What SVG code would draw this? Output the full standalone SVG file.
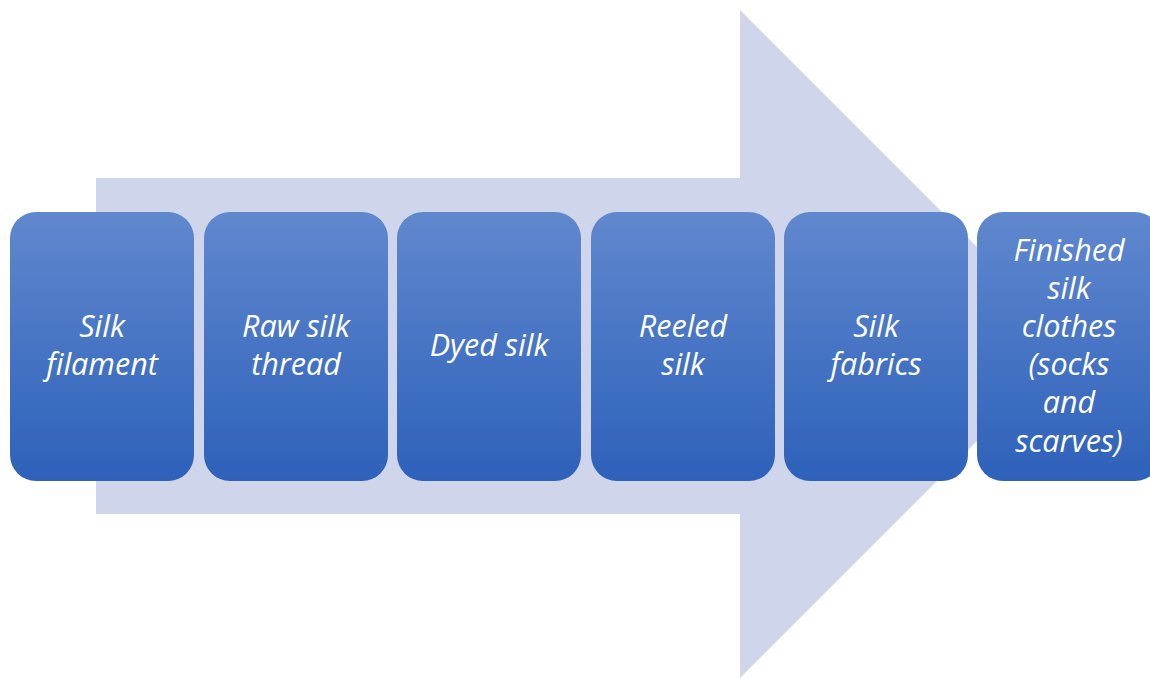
<svg xmlns="http://www.w3.org/2000/svg" width="1150" height="678" viewBox="0 0 1150 678">
<defs>
<linearGradient id="g" x1="0" y1="0" x2="0" y2="1">
<stop offset="0" stop-color="#6088CE"/>
<stop offset="1" stop-color="#2E61BA"/>
</linearGradient>
<style>
.box{fill:url(#g);}
.t{fill:#fff;font-family:"Open Sans","Liberation Sans",sans-serif;font-style:italic;font-size:30.5px;text-anchor:middle;}
</style>
</defs>
<rect width="1150" height="678" fill="#fff"/>
<g id="arrow">
<polygon points="96,178 740,178 740,10 1074,344 740,678 740,514 96,514" fill="#CFD5EA"/>
</g>
<g id="n1"><rect class="box" x="10" y="212" width="184" height="269" rx="26"/>
<text class="t" x="102" y="337">Silk</text><text class="t" x="102" y="375">filament</text></g>
<g id="n2"><rect class="box" x="204" y="212" width="184" height="269" rx="26"/>
<text class="t" x="296" y="337">Raw silk</text><text class="t" x="296" y="375">thread</text></g>
<g id="n3"><rect class="box" x="397" y="212" width="184" height="269" rx="26"/>
<text class="t" x="489" y="356">Dyed silk</text></g>
<g id="n4"><rect class="box" x="591" y="212" width="184" height="269" rx="26"/>
<text class="t" x="683" y="337">Reeled</text><text class="t" x="683" y="375">silk</text></g>
<g id="n5"><rect class="box" x="784" y="212" width="184" height="269" rx="26"/>
<text class="t" x="876" y="337">Silk</text><text class="t" x="876" y="375">fabrics</text></g>
<g id="n6"><rect class="box" x="977" y="212" width="184" height="269" rx="26"/>
<text class="t" x="1069" y="261">Finished</text><text class="t" x="1069" y="299">silk</text><text class="t" x="1069" y="337">clothes</text><text class="t" x="1069" y="375">(socks</text><text class="t" x="1069" y="413">and</text><text class="t" x="1069" y="452">scarves)</text></g>
<g id="connectors"></g>
</svg>
